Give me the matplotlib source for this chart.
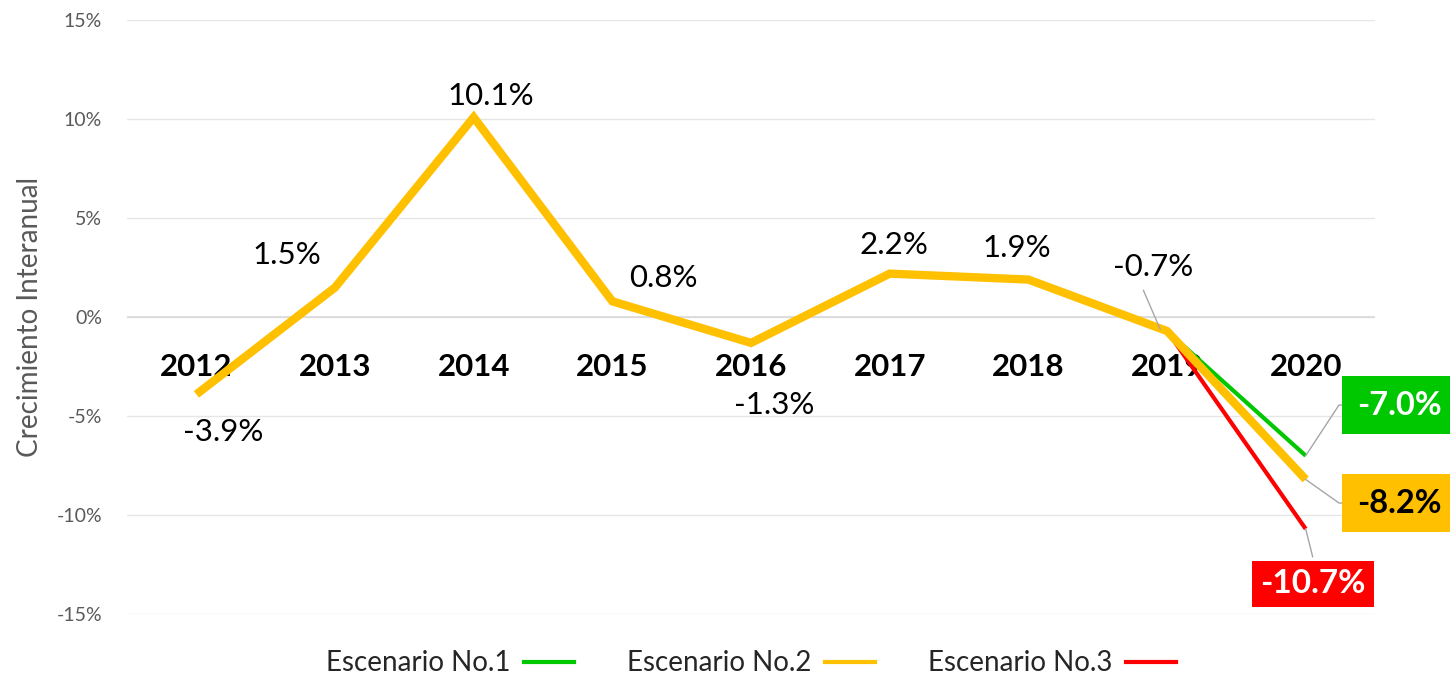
import matplotlib.pyplot as plt
from matplotlib.lines import Line2D

plt.rcParams['font.family'] = ['Lato', 'DejaVu Sans']

# datos
years = ['2012', '2013', '2014', '2015', '2016', '2017', '2018', '2019', '2020']
esc2 = [-3.9, 1.5, 10.1, 0.8, -1.3, 2.2, 1.9, -0.7, -8.2]
esc1 = [-0.7, -7.0]   # 2019 -> 2020
esc3 = [-0.7, -10.7]  # 2019 -> 2020
labels_main = ['-3.9%', '1.5%', '10.1%', '0.8%', '-1.3%', '2.2%', '1.9%', '-0.7%']
yticks = [-15, -10, -5, 0, 5, 10, 15]

ORANGE = '#FFC000'
GREEN = '#00C800'
RED = '#FF0000'
GRAY = '#595959'

fig = plt.figure(figsize=(14.5, 6.77), dpi=100)
ax = fig.add_axes([0.0876, 0.093, 0.8607, 0.877])

x = list(range(len(years)))
ax.plot(x[7:], esc1, color=GREEN, lw=3, solid_capstyle='butt', zorder=3)
ax.plot(x[7:], esc3, color=RED, lw=3, solid_capstyle='butt', zorder=3)
ax.plot(x, esc2, color=ORANGE, lw=6, solid_capstyle='butt', solid_joinstyle='miter', zorder=4)

ax.set_xlim(-0.5, 8.5)
ax.set_ylim(-15, 15)
ax.set_yticks(yticks)
ax.set_yticklabels([f'{v}%' for v in yticks], color=GRAY, fontsize=14)
ax.set_xticks([])
ax.tick_params(axis='y', length=0, pad=18)
for s in ax.spines.values():
    s.set_visible(False)
ax.grid(axis='y', color='#E6E6E6', lw=1)
ax.axhline(0, color='#D9D9D9', lw=1.2, zorder=1)
ax.set_axisbelow(True)
ax.set_ylabel('Crecimiento Interanual', color=GRAY, fontsize=20, labelpad=10)

# años sobre el eje
for i, yr in enumerate(years):
    ax.text(i, -2.5, yr, ha='center', va='center', fontsize=22.5, fontweight='bold', color='black', zorder=2)

# etiquetas de datos
label_pos = [(0.19, -5.8), (0.65, 3.13), (2.12, 11.2), (3.37, 1.97),
             (4.17, -4.44), (5.03, 3.64), (5.92, 3.48), (6.9, 2.53)]
for (lx, ly), txt in zip(label_pos, labels_main):
    ax.text(lx, ly, txt, ha='center', va='center', fontsize=22.5, color='black')

# lineas guia
ax.plot([6.83, 6.95], [1.35, -0.6], color='#A6A6A6', lw=1, zorder=5)
ax.plot([8.0, 8.24, 8.32], [-7.0, -4.44, -4.44], color='#A6A6A6', lw=1, zorder=5, clip_on=False)
ax.plot([8.0, 8.24, 8.32], [-8.2, -9.39, -9.39], color='#A6A6A6', lw=1, zorder=5, clip_on=False)
ax.plot([8.0, 8.05], [-10.7, -12.1], color='#A6A6A6', lw=1, zorder=5, clip_on=False)

# cajas escenario 2020
ax.text(8.37, -4.44, '-7.0%', ha='left', va='center', fontsize=23.5, fontweight='bold', color='white',
        bbox=dict(boxstyle='square,pad=0.45', fc=GREEN, ec='none'), clip_on=False, zorder=6)
ax.text(8.37, -9.39, '-8.2%', ha='left', va='center', fontsize=23.5, fontweight='bold', color='black',
        bbox=dict(boxstyle='square,pad=0.45', fc=ORANGE, ec='none'), clip_on=False, zorder=6)
ax.text(8.05, -13.48, '-10.7%', ha='center', va='center', fontsize=24, fontweight='bold', color='white',
        bbox=dict(boxstyle='square,pad=0.25', fc=RED, ec='none'), clip_on=False, zorder=6)

handles = [Line2D([], [], color=GREEN, lw=3),
           Line2D([], [], color=ORANGE, lw=3),
           Line2D([], [], color=RED, lw=3)]
ax.legend(handles, ['Escenario No.1', 'Escenario No.2', 'Escenario No.3'],
          loc='center', bbox_to_anchor=(0.5, -0.083), ncol=3, frameon=False,
          markerfirst=False, fontsize=20, handlelength=1.8, handletextpad=0.5,
          columnspacing=1.9, labelcolor='#262626')

fig.savefig('out.png', dpi=100)
